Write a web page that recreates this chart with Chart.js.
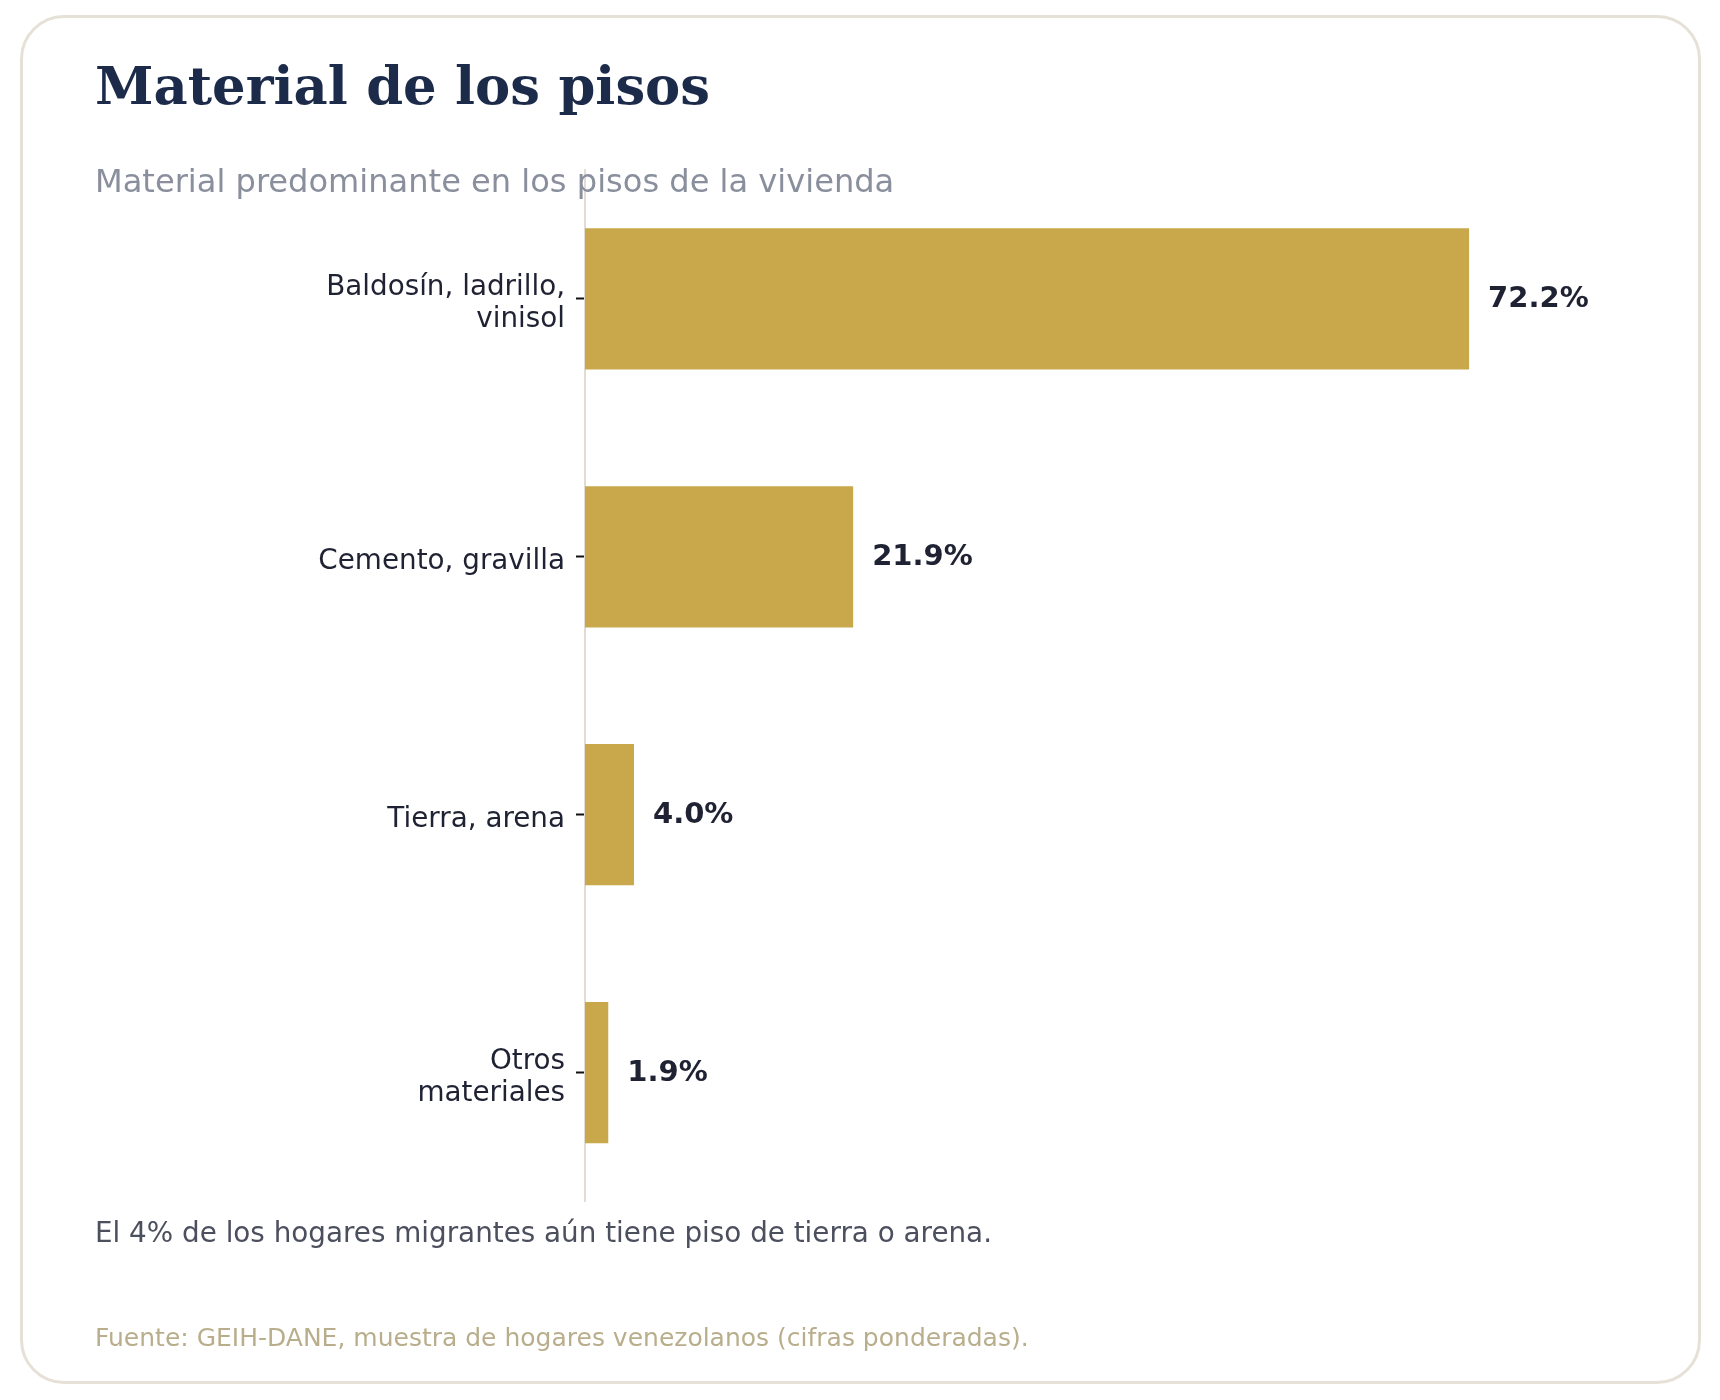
<!DOCTYPE html>
<html>
<head>
<meta charset="utf-8">
<script src="https://cdn.jsdelivr.net/npm/chart.js@4.4.1/dist/chart.umd.min.js"></script>
<style>
  html, body { margin: 0; padding: 0; background: #ffffff; }
  body { width: 1720px; height: 1400px; position: relative; overflow: hidden; }
  #card { position: absolute; left: 20px; top: 15px; width: 1675px; height: 1363px;
          border: 3px solid #e6e1d6; border-radius: 44px; background: #ffffff; }
  #wrap { position: absolute; left: 0; top: 0; width: 1720px; height: 1400px; }
  .txt { position: absolute; white-space: nowrap; line-height: 1; }
  #title { left: 95px; top: 58.6px; font-family: "DejaVu Serif", serif; font-weight: bold; font-size: 52.8px; color: #1d2b4b; }
  #subtitle { left: 95px; top: 164.6px; font-family: "DejaVu Sans", sans-serif; font-size: 32.1px; color: #8a8f9d; }
  #note { left: 95px; top: 1218.8px; font-family: "DejaVu Sans", sans-serif; font-size: 27.8px; color: #4b4f5e; }
  #source { left: 95px; top: 1324.6px; font-family: "DejaVu Sans", sans-serif; font-size: 25px; color: #b9ae8c; }
</style>
</head>
<body>
<div id="card"></div>
<div id="wrap"><canvas id="c" width="1720" height="1400"></canvas></div>
<div class="txt" id="title">Material de los pisos</div>
<div class="txt" id="subtitle">Material predominante en los pisos de la vivienda</div>
<div class="txt" id="note">El 4% de los hogares migrantes aún tiene piso de tierra o arena.</div>
<div class="txt" id="source">Fuente: GEIH-DANE, muestra de hogares venezolanos (cifras ponderadas).</div>
<script>
const categories = [['Baldosín, ladrillo,', 'vinisol'], 'Cemento, gravilla', 'Tierra, arena', ['Otros', 'materiales']];
const values = [72.2, 21.9, 4.0, 1.9];
const xMin = 0;
const xMax = 80;

const barColor = '#c9a74b';
const textDark = '#1f2233';

const valueLabels = {
  id: 'valueLabels',
  afterDatasetsDraw(chart) {
    const ctx = chart.ctx;
    const meta = chart.getDatasetMeta(0);
    ctx.save();
    ctx.font = 'bold 29px "DejaVu Sans"';
    ctx.fillStyle = textDark;
    ctx.textAlign = 'left';
    ctx.textBaseline = 'alphabetic';
    meta.data.forEach((bar, i) => {
      const v = chart.data.datasets[0].data[i];
      ctx.fillText(v.toFixed(1) + '%', bar.x + 19, bar.y + 8);
    });
    ctx.restore();
  }
};

new Chart(document.getElementById('c'), {
  type: 'bar',
  data: {
    labels: categories,
    datasets: [{
      data: values,
      backgroundColor: barColor,
      borderWidth: 0,
      barPercentage: 0.548,
      categoryPercentage: 1
    }]
  },
  options: {
    indexAxis: 'y',
    responsive: false,
    animation: false,
    devicePixelRatio: 1,
    layout: { padding: { left: 0, top: 170, right: 155.4, bottom: 198.5 } },
    plugins: { legend: { display: false }, tooltip: { enabled: false }, title: { display: false } },
    scales: {
      x: { display: false, min: xMin, max: xMax },
      y: {
        afterFit(scale) { scale.width = 585; },
        grid: { display: true, drawOnChartArea: false, drawTicks: true, tickLength: 9,
                tickColor: '#111111', tickWidth: 2, offset: false },
        border: { display: true, color: '#e2ddd2', width: 2 },
        ticks: { color: textDark, padding: 11, labelOffset: 5,
                 font: { family: '"DejaVu Sans"', size: 27.8, lineHeight: 1.14 } }
      }
    }
  },
  plugins: [valueLabels]
});
</script>
</body>
</html>
